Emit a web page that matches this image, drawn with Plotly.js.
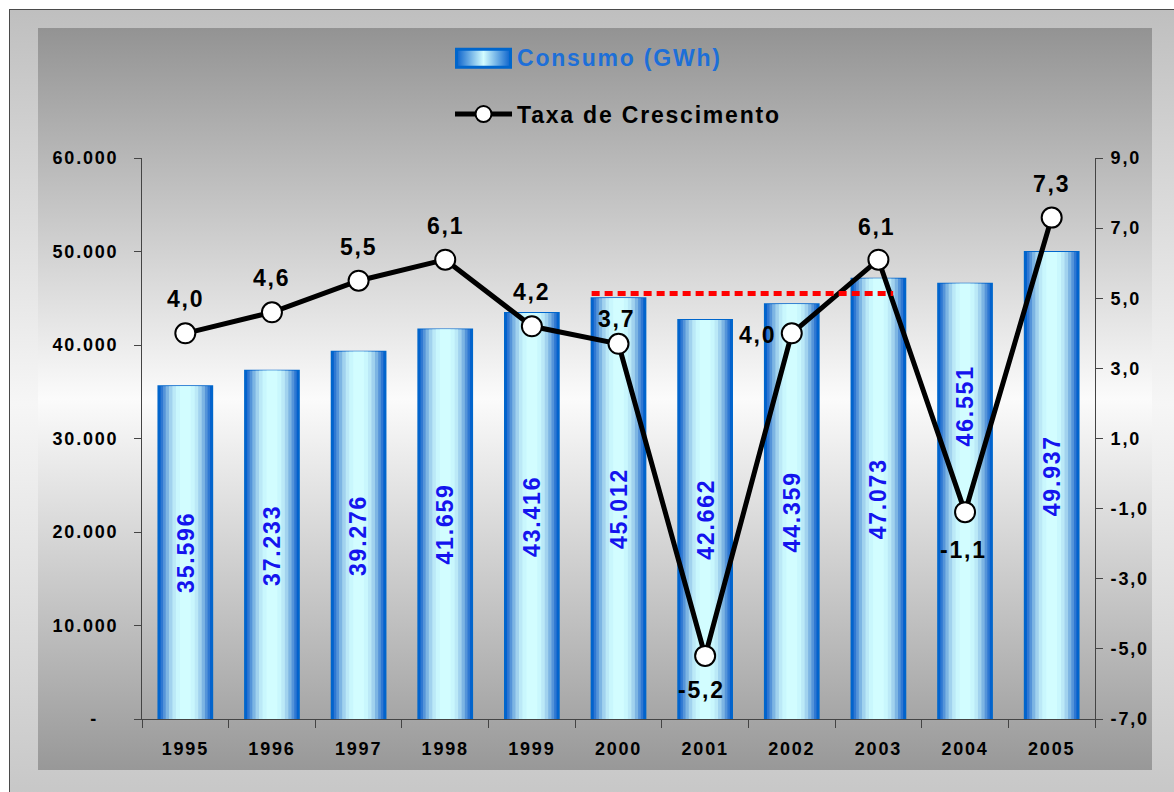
<!DOCTYPE html>
<html>
<head>
<meta charset="utf-8">
<script src="https://cdn.plot.ly/plotly-3.0.1.min.js"></script>
<style>
  html, body { margin: 0; padding: 0; width: 1174px; height: 792px; overflow: hidden; background: #ffffff; }
  #frame { position: absolute; left: 9px; top: 9px; width: 1200px; height: 820px;
    border-left: 1px solid #4a4a4a; border-top: 1px solid #4a4a4a;
    background: linear-gradient(to bottom, #bfbfbf 0%, #f6f6f6 48%, #c3c3c3 100%); }
  #panel { position: absolute; left: 38px; top: 28px; width: 1114px; height: 742px;
    background: linear-gradient(to bottom, #939393 0%, #fbfbfb 50%, #989898 100%); }
  #chart { position: absolute; left: 0; top: 0; width: 1174px; height: 792px; }
  text { letter-spacing: 1.8px; }
</style>
</head>
<body>
<div id="frame"></div>
<div id="panel"></div>
<div id="chart"></div>
<script>
// ---- data ----
const years = ['1995','1996','1997','1998','1999','2000','2001','2002','2003','2004','2005'];
const consumo = [35596, 37233, 39276, 41659, 43416, 45012, 42662, 44359, 47073, 46551, 49937];
const taxa = [4.0, 4.6, 5.5, 6.1, 4.2, 3.7, -5.2, 4.0, 6.1, -1.1, 7.3];
const leftTicks = [0, 10000, 20000, 30000, 40000, 50000, 60000];
const leftTickText = ['-\u00a0\u00a0\u00a0', '10.000', '20.000', '30.000', '40.000', '50.000', '60.000'];
const rightTicks = [-7, -5, -3, -1, 1, 3, 5, 7, 9];
const rightTickText = ['-7,0', '-5,0', '-3,0', '-1,0', '1,0', '3,0', '5,0', '7,0', '9,0'];
const refLevel = 45500;   // red dotted reference level (GWh)
const refFrom = '2000', refTo = '2003';

// ---- style ----
const FONT = 'Liberation Sans, Arial, sans-serif';
const barW = 0.62;
const layers = [
  [1.00, '#0760cc'], [0.92, '#2f78d2'], [0.83, '#5594d9'], [0.73, '#7db5e3'],
  [0.61, '#a1d2ee'], [0.48, '#bbe9f7'], [0.35, '#c9f7fd'], [0.20, '#d2fdff']
];
// label offsets for growth-rate values: [xshift, yshift]
const labelShift = [[0,34],[0,34],[0,34],[0,34],[0,34],[-2,25],[-4,-34],[-34,-2],[-2,33],[-2,-38],[0,34]];
// vertical offsets (px) for bar value labels
const barLabelShift = [0,0,0,0,0,0,0,0,0,95,10];

const fmtThousands = v => v.toString().replace(/\B(?=(\d{3})+(?!\d))/g, '.');
const fmtRate = v => v.toFixed(1).replace('.', ',');

const traces = [];
layers.forEach((ly, i) => {
  traces.push({
    type: 'bar', x: years, y: consumo, xaxis: 'x', yaxis: 'y',
    width: years.map(() => barW * ly[0]),
    marker: { color: ly[1], line: i === 0 ? { color: '#0066cc', width: 2 } : { width: 0 } },
    showlegend: false, hoverinfo: 'skip'
  });
});
// legend proxy for the bars (gradient swatch)
traces.push({
  type: 'scatter', mode: 'lines', x: [null], y: [null], fill: 'toself',
  fillgradient: { type: 'horizontal', colorscale: [[0, '#0a62cc'], [0.5, '#d2fdff'], [1, '#0a62cc']] },
  line: { color: '#0066cc', width: 0 },
  name: '<span style="color:#1d6fd8">Consumo (GWh)</span>', legendgroup: 'a', showlegend: true, hoverinfo: 'skip'
});
traces.push({
  type: 'scatter', mode: 'lines+markers', x: years, y: taxa, yaxis: 'y2',
  line: { color: '#000000', width: 5 },
  marker: { size: 20, color: '#ffffff', line: { color: '#000000', width: 2 } },
  name: 'Taxa de Crescimento', legendgroup: 'b', hoverinfo: 'skip'
});

const annotations = [];
consumo.forEach((v, i) => annotations.push({
  x: i, y: v / 2, xref: 'x', yref: 'y', text: fmtThousands(v), showarrow: false, textangle: -90,
  yshift: barLabelShift[i],
  font: { family: FONT, size: 23, color: '#1414ee', weight: 'bold' }
}));
taxa.forEach((v, i) => annotations.push({
  x: i, y: v, xref: 'x', yref: 'y2', text: fmtRate(v), showarrow: false,
  xshift: labelShift[i][0], yshift: labelShift[i][1],
  font: { family: FONT, size: 23, color: '#000000', weight: 'bold' }
}));

const iFrom = years.indexOf(refFrom), iTo = years.indexOf(refTo);
const layout = {
  width: 1174, height: 792,
  margin: { l: 142, r: 79, t: 158, b: 73 },
  paper_bgcolor: 'rgba(0,0,0,0)', plot_bgcolor: 'rgba(0,0,0,0)',
  barmode: 'overlay',
  font: { family: FONT, size: 18, color: '#000000', weight: 'bold' },
  showlegend: true,
  legend: {
    x: 0.3232, xanchor: 'left', y: 1.218, yanchor: 'top',
    bgcolor: 'rgba(0,0,0,0)', traceorder: 'grouped', tracegroupgap: 24,
    itemwidth: 57,
    font: { family: FONT, size: 23, color: '#000000', weight: 'bold' }
  },
  xaxis: {
    type: 'category', range: [-0.5, 10.5], tickson: 'boundaries',
    ticks: 'outside', ticklen: 8, tickcolor: '#444', tickwidth: 1,
    showline: true, linecolor: '#444', linewidth: 1, showgrid: false, zeroline: false,
    tickfont: { family: FONT, size: 18, color: '#000', weight: 'bold' }, ticklabelstandoff: 13, fixedrange: true
  },
  xaxis2: {
    overlaying: 'x', range: [-0.5, 10.5], tickvals: [-0.5,0.5,1.5,2.5,3.5,4.5,5.5,6.5,7.5,8.5,9.5,10.5],
    ticks: 'inside', ticklen: 6, tickcolor: '#444', showticklabels: false, showline: false,
    showgrid: false, zeroline: false, anchor: 'y', side: 'bottom'
  },
  yaxis: {
    range: [0, 60000], tickvals: leftTicks, ticktext: leftTickText,
    ticks: 'outside', ticklen: 7, tickcolor: '#444',
    showline: true, linecolor: '#444', linewidth: 1, showgrid: false, zeroline: false,
    tickfont: { family: FONT, size: 18, color: '#000', weight: 'bold' }, ticklabelstandoff: 12, fixedrange: true
  },
  yaxis2: {
    overlaying: 'y', side: 'right', range: [-7, 9], tickvals: rightTicks, ticktext: rightTickText,
    ticks: 'outside', ticklen: 7, tickcolor: '#444',
    showline: true, linecolor: '#444', linewidth: 1, showgrid: false, zeroline: false,
    tickfont: { family: FONT, size: 18, color: '#000', weight: 'bold' }, ticklabelstandoff: 4, fixedrange: true
  },
  yaxis3: {
    overlaying: 'y', side: 'left', anchor: 'x', range: [0, 60000], tickvals: leftTicks,
    ticks: 'inside', ticklen: 7, tickcolor: '#444', showticklabels: false, showline: false,
    showgrid: false, zeroline: false
  },
  yaxis4: {
    overlaying: 'y', side: 'right', anchor: 'x', range: [-7, 9], tickvals: rightTicks,
    ticks: 'inside', ticklen: 7, tickcolor: '#444', showticklabels: false, showline: false,
    showgrid: false, zeroline: false
  },
  shapes: [{
    type: 'line', xref: 'x', yref: 'y',
    x0: iFrom - barW / 2, x1: iTo + 0.17, y0: refLevel, y1: refLevel,
    line: { color: '#ff0000', width: 5, dash: '8px,5px' }
  }],
  annotations: annotations
};

Plotly.newPlot('chart', traces, layout, { staticPlot: true, displayModeBar: false }).then(gd => {
  // enlarge the bar legend swatch into a wide rectangle like the original
  const p = gd.querySelector('.legend .traces .legendfill path');
  if (p) {
    const b = p.getBBox();
    const cx = b.x + b.width / 2, cy = b.y + b.height / 2;
    const sx = 54 / b.width, sy = 18 / b.height;
    p.setAttribute('transform', `translate(${cx},${cy}) scale(${sx},${sy}) translate(${-cx},${-cy})`);
    p.style.stroke = '#0066cc';
    p.style.strokeWidth = '3px';
    p.setAttribute('vector-effect', 'non-scaling-stroke');
    p.style.vectorEffect = 'non-scaling-stroke';
  }
});
</script>
</body>
</html>
